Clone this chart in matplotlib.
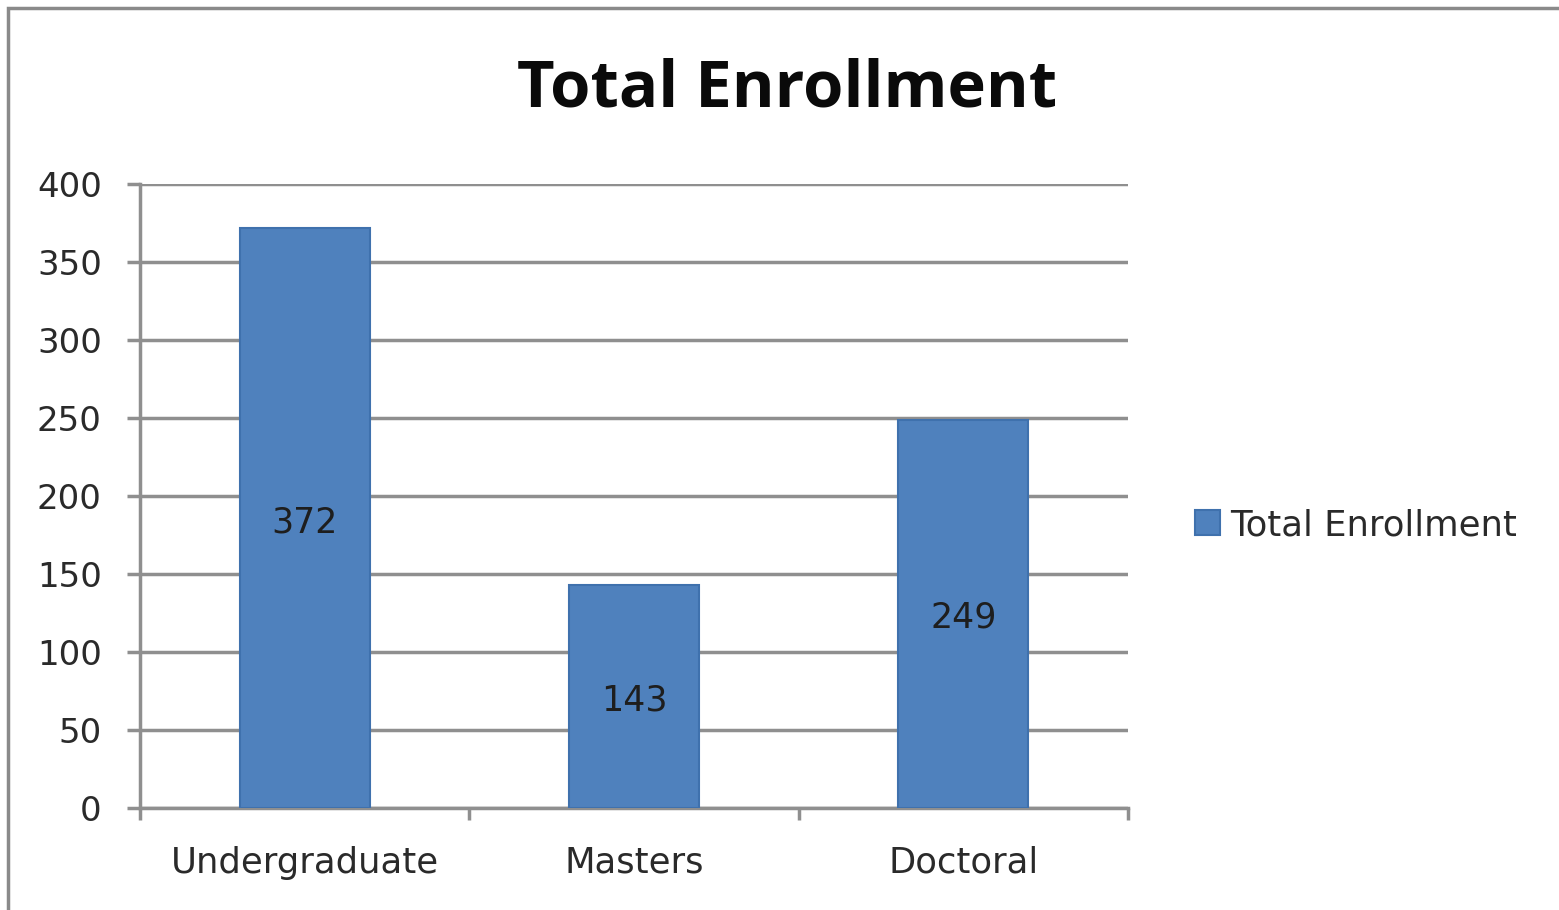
import matplotlib.pyplot as plt
from matplotlib.patches import Rectangle

categories = ["Undergraduate", "Masters", "Doctoral"]
enrollment = [372, 143, 249]
y_ticks = [0, 50, 100, 150, 200, 250, 300, 350, 400]

plt.rcParams['font.family'] = ['DejaVu Sans']

W, H = 1559, 910
fig = plt.figure(figsize=(W / 100, H / 100), dpi=100)
ax = fig.add_axes([140 / W, 1 - 808 / H, (1128 - 140) / W, (808 - 184) / H])

# outer chart-area border (right and bottom edges fall outside the image)
fig.patches.append(Rectangle((8 / W, -0.05), 1.0, 1 - 8 / H + 0.05,
                             transform=fig.transFigure, fill=False,
                             edgecolor='#8a8a8a', linewidth=2.5))

x = list(range(len(categories)))
ax.bar(x, enrollment, width=0.395, color='#4F81BD', edgecolor='#3f71ad',
       linewidth=1.5, label="Total Enrollment", zorder=3)
# value labels in the middle of each bar
for xi, v in zip(x, enrollment):
    ax.annotate(str(v), (xi, v / 2), xytext=(0, -3), textcoords='offset points',
                ha='center', va='center', fontsize=25, color='#1e1e1e', zorder=4)

ax.set_xlim(-0.5, 2.5)
ax.set_ylim(0, 400)
ax.set_yticks(y_ticks)
ax.set_yticklabels([str(v) for v in y_ticks], fontsize=24.5, color='#2a2a2a')
ax.set_xticks(x)
ax.set_xticklabels(categories, fontsize=25.5, color='#2a2a2a')
ax.tick_params(axis='x', length=0, pad=27)
ax.set_xticks([-0.5, 0.5, 1.5, 2.5], minor=True)
ax.tick_params(axis='x', which='minor', length=8.6, width=2.5, color='#8f8f8f')
ax.tick_params(axis='y', length=9.5, width=2.5, color='#8f8f8f', pad=18)

ax.grid(axis='y', color='#8f8f8f', linewidth=2.5, zorder=0)
ax.set_axisbelow(True)
for side in ['top', 'right']:
    ax.spines[side].set_visible(False)
for side in ['left', 'bottom']:
    ax.spines[side].set_color('#8f8f8f')
    ax.spines[side].set_linewidth(2.5)

fig.text(787 / W, 1 - 90 / H, "Total Enrollment", ha='center', va='center',
         fontsize=47, fontweight='bold', color='#0a0a0a', family='Open Sans')

ax.legend(loc='center left', bbox_to_anchor=(1163 / W, 1 - 525 / H),
          bbox_transform=fig.transFigure, frameon=False, fontsize=25.5,
          handlelength=0.7, handleheight=0.7, handletextpad=0.3,
          labelcolor='#2a2a2a')

fig.savefig("out.png", dpi=100)
